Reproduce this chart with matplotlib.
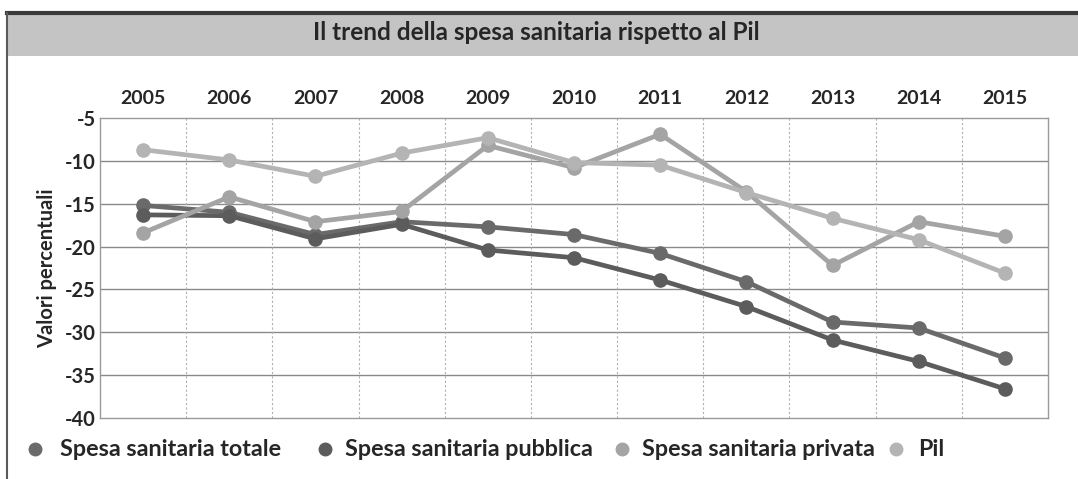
import matplotlib
matplotlib.use("Agg")
import matplotlib.pyplot as plt
from matplotlib.patches import Rectangle
from matplotlib.lines import Line2D

plt.rcParams['font.family'] = ['Lato', 'DejaVu Sans']
plt.rcParams['font.weight'] = 'bold'

years = ['2005', '2006', '2007', '2008', '2009', '2010', '2011', '2012', '2013', '2014', '2015']
totale = [-15.2, -16.0, -18.6, -17.1, -17.7, -18.6, -20.8, -24.1, -28.8, -29.5, -33.0]
pubblica = [-16.3, -16.4, -19.1, -17.4, -20.4, -21.3, -23.9, -27.0, -30.9, -33.4, -36.6]
privata = [-18.4, -14.2, -17.1, -15.9, -8.2, -10.8, -6.9, -13.6, -22.2, -17.1, -18.8]
pil = [-8.7, -9.9, -11.8, -9.1, -7.3, -10.2, -10.5, -13.7, -16.7, -19.2, -23.1]
series_names = ['Spesa sanitaria totale', 'Spesa sanitaria pubblica', 'Spesa sanitaria privata', 'Pil']
yticks = [-5, -10, -15, -20, -25, -30, -35, -40]

W, H = 1078, 479
fig = plt.figure(figsize=(W / 100, H / 100), dpi=100)
fig.patch.set_facecolor('white')

# title band and frame
fig.add_artist(Rectangle((7 / W, 1 - 56 / H), 1 - 7 / W, 43 / H, transform=fig.transFigure,
                         facecolor='#c4c4c4', edgecolor='none', zorder=0))
fig.add_artist(Line2D([7 / W, 1], [1 - 13 / H, 1 - 13 / H], transform=fig.transFigure,
                      color='#3a3a3a', lw=3))
fig.add_artist(Line2D([7 / W, 7 / W], [0, 1 - 13 / H], transform=fig.transFigure,
                      color='#5a5a5a', lw=1.5))
fig.text(313 / W, 1 - 33 / H, 'Il trend della spesa sanitaria rispetto al Pil', ha='left', va='center',
         fontsize=17.5, fontweight='bold', color='#262626')

ax = fig.add_axes([100 / W, 1 - 418 / H, 948 / W, 300 / H])
x = list(range(len(years)))
colors = ['#6a6a6a', '#5c5c5c', '#a4a4a4', '#b4b4b4']
series = [totale, pubblica, privata, pil]
for vals, col, name in zip(series, colors, series_names):
    ax.plot(x, vals, color=col, lw=3.4, marker='o', markersize=9.5,
            markerfacecolor=col, markeredgecolor=col, label=name, zorder=3)

ax.set_xlim(-0.5, len(years) - 0.5)
ax.set_ylim(-40, -5)
ax.set_yticks(yticks)
ax.set_yticklabels([str(v) for v in yticks])
ax.set_xticks(x)
ax.set_xticklabels(years)
ax.xaxis.tick_top()
ax.tick_params(axis='x', length=0, pad=8, labelsize=14, colors='#262626')
ax.tick_params(axis='y', length=0, pad=3, labelsize=14.5, colors='#262626')
for lab in ax.get_xticklabels() + ax.get_yticklabels():
    lab.set_fontweight('bold')

for v in yticks[1:-1]:
    ax.axhline(v, color='#8a8a8a', lw=1.0, zorder=1)
for i in range(1, len(years)):
    ax.axvline(i - 0.5, color='#b0b0b0', lw=0.8, ls=(0, (2, 2)), zorder=1)
for s in ax.spines.values():
    s.set_color('#9a9a9a')
    s.set_linewidth(1.0)

ax.set_ylabel('Valori percentuali', fontsize=14.5, fontweight='bold', color='#262626', labelpad=6)

# legend (manual layout)
marker_x = [35, 325, 622, 896]
text_x = [60, 345, 642, 918]
ly = 1 - 449 / H
for col, name, mx, tx in zip(colors, series_names, marker_x, text_x):
    fig.add_artist(Line2D([mx / W], [ly], transform=fig.transFigure, ls='none', marker='o',
                          markersize=9, color=col))
    fig.text(tx / W, ly, name, ha='left', va='center', fontsize=16.8, fontweight='bold', color='#262626')

fig.savefig('out.png', dpi=100)
